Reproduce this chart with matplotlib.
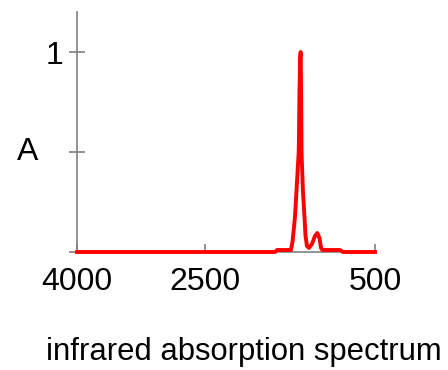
import matplotlib.pyplot as plt

plt.rcParams['font.family'] = ['Liberation Sans', 'DejaVu Sans']

# infrared spectrum (wavenumber, absorbance)
wavenumber = [4000, 1674, 1651, 1487, 1469, 1440, 1416, 1395, 1387, 1379, 1373,
              1367, 1363, 1346, 1328, 1316, 1299, 1275, 1240, 1205, 1178, 1152,
              1134, 1117, 911, 876, 500]
absorbance = [0.0, 0.0, 0.01, 0.01, 0.05, 0.175, 0.35, 0.51, 0.8, 0.97, 1.0,
              0.75, 0.5, 0.3, 0.175, 0.08, 0.03, 0.02, 0.04, 0.08, 0.095, 0.07,
              0.02, 0.01, 0.01, 0.0, 0.0]

x_ticks = [4000, 2500, 500]
x_labels = ['4000', '2500', '500']
y_ticks = [0, 0.5, 1]
y_labels = ['', '', '1']

fig = plt.figure(figsize=(4.48, 3.7), dpi=100)
ax = fig.add_axes([77 / 448, 1 - 252 / 370, 298 / 448, 240 / 370])

ax.plot(wavenumber, absorbance, color='#ff0000', linewidth=2.8,
        solid_joinstyle='round', zorder=3, clip_on=False)

ax.set_xlim(4000, 500)
ax.set_ylim(0, 1.2)

for s in ['top', 'right']:
    ax.spines[s].set_visible(False)
for s in ['left', 'bottom']:
    ax.spines[s].set_color('#7f7f7f')
    ax.spines[s].set_linewidth(1.2)

ax.set_xticks(x_ticks)
ax.set_xticklabels(x_labels)
ax.set_yticks(y_ticks)
ax.set_yticklabels(y_labels)
ax.tick_params(axis='x', direction='in', length=6, width=1.2, color='#7f7f7f',
               labelsize=23, pad=11)
ax.tick_params(axis='y', direction='inout', length=12, width=1.2, color='#7f7f7f',
               labelsize=23, pad=4)

ax.set_ylabel('A', rotation=0, fontsize=23, ha='center', va='center')
ax.yaxis.set_label_coords(-0.165, 0.5 / 1.2)

ax.set_xlabel('infrared absorption spectrum', fontsize=22.3, ha='center', va='center')
ax.xaxis.set_label_coords((244 - 77) / 298, (252 - 352) / 240)

fig.savefig('out.png', dpi=100)
